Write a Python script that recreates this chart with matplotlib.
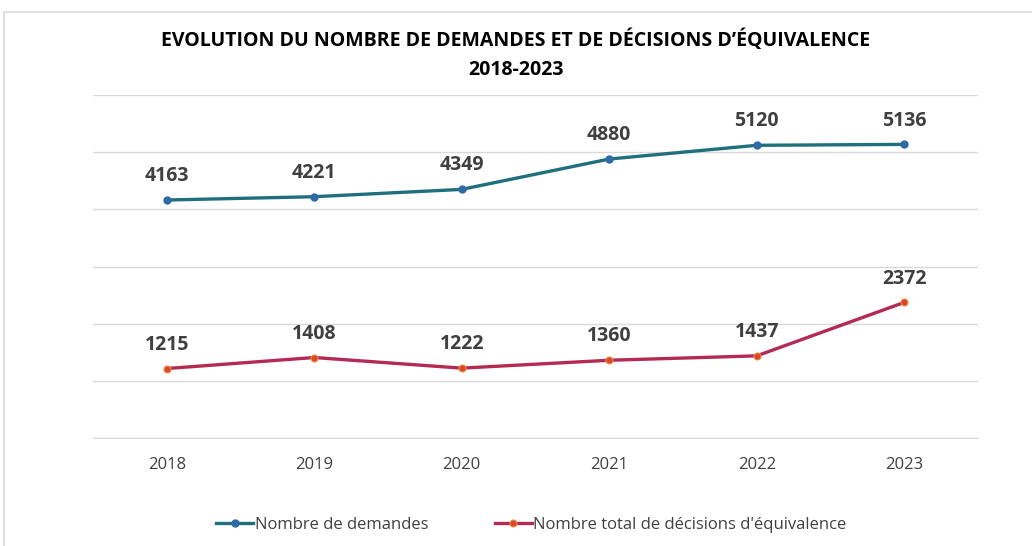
import matplotlib.pyplot as plt
from matplotlib.patches import Rectangle

plt.rcParams['font.family'] = ['Liberation Sans Narrow', 'Open Sans', 'DejaVu Sans']

years = ['2018', '2019', '2020', '2021', '2022', '2023']
demandes = [4163, 4221, 4349, 4880, 5120, 5136]
decisions = [1215, 1408, 1222, 1360, 1437, 2372]

teal = '#1f6f7c'
blue = '#2e6aa3'
crimson = '#b52a55'
orange = '#d9482c'

fig = plt.figure(figsize=(10.32, 5.46), dpi=100)
fig.patches.append(Rectangle((4 / 1032, -0.1), 1.2, 1.1 - 12 / 546, transform=fig.transFigure,
                             fill=False, edgecolor='#d9d9d9', linewidth=1.2))
ax = fig.add_axes([93 / 1032, 1 - 438 / 546, (978 - 93) / 1032, (438 - 95) / 546])

x = list(range(len(years)))
ax.plot(x, demandes, color=teal, linewidth=2.4, marker='o', markersize=5,
        markerfacecolor=blue, markeredgecolor=blue, label='Nombre de demandes')
ax.plot(x, decisions, color=crimson, linewidth=2.4, marker='o', markersize=5,
        markerfacecolor=orange, markeredgecolor='#f08a3c', markeredgewidth=0.8,
        label="Nombre total de décisions d'équivalence")

# valeurs au-dessus des points
for series in (demandes, decisions):
    for xi, v in zip(x, series):
        ax.annotate(str(v), (xi, v), xytext=(0, 10), textcoords='offset points',
                    ha='center', va='bottom', fontsize=14, fontweight='bold', color='#404040')

ax.set_xlim(-0.5, len(years) - 0.5)
ax.set_ylim(0, 6000)
ax.set_yticks(range(0, 6001, 1000))
ax.yaxis.grid(True, color='#d9d9d9', linewidth=1)
ax.set_axisbelow(True)
ax.tick_params(axis='y', left=False, labelleft=False)
ax.set_xticks(x)
ax.set_xticklabels(years, fontsize=12, color='#404040')
ax.tick_params(axis='x', length=0, pad=14)
for s in ['top', 'right', 'left']:
    ax.spines[s].set_visible(False)
ax.spines['bottom'].set_color('#d9d9d9')

fig.text(0.5, 1 - 40 / 546, "EVOLUTION DU NOMBRE DE DEMANDES ET DE DÉCISIONS D’ÉQUIVALENCE",
         ha='center', va='center', fontsize=14, fontweight='bold', color='#000000')
fig.text(0.5, 1 - 70 / 546, '2018-2023', ha='center', va='center',
         fontsize=14, fontweight='bold', color='#000000')

fig.legend(loc='center', bbox_to_anchor=(0.515, 1 - 525 / 546), ncol=2, frameon=False,
           fontsize=12, handlelength=2.2, handletextpad=0.1, columnspacing=4,
           labelcolor='#404040')

fig.savefig('out.png', dpi=100)
